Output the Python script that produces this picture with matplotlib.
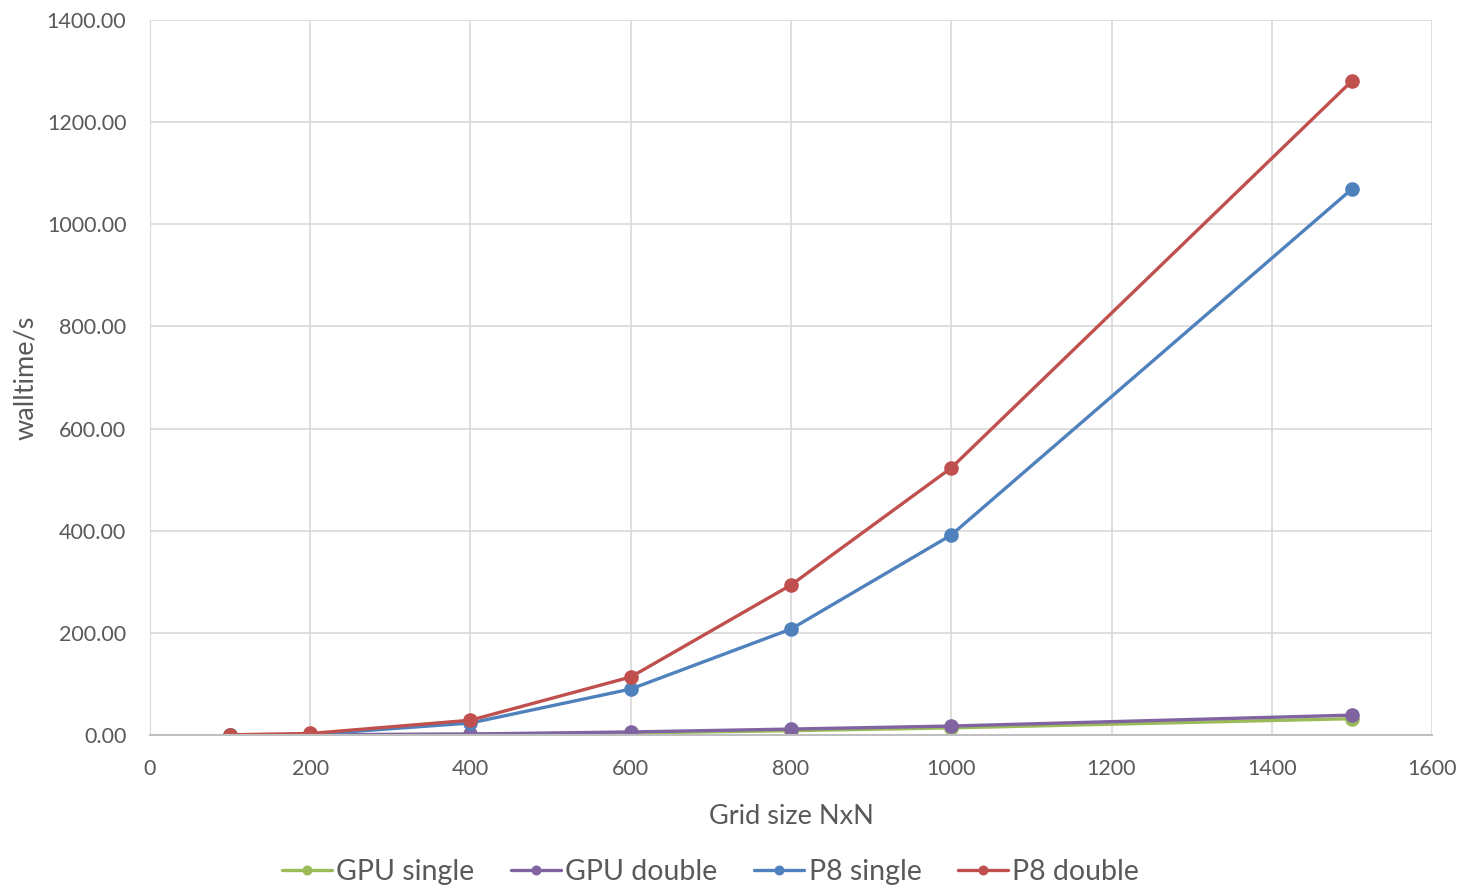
import matplotlib.pyplot as plt
from matplotlib.ticker import FormatStrFormatter

plt.rcParams['font.family'] = ['Lato', 'DejaVu Sans']

grid_size = [100, 200, 400, 600, 800, 1000, 1500]
gpu_single = [0.1, 0.3, 1.5, 4.0, 8.5, 14.0, 32.0]
gpu_double = [0.2, 0.5, 2.0, 6.0, 11.7, 17.6, 39.0]
p8_single = [0.3, 1.0, 23.5, 90.0, 207.5, 391.6, 1069.0]
p8_double = [0.5, 3.0, 29.0, 113.6, 293.7, 523.0, 1280.6]

series = [
    ('GPU single', gpu_single, '#9BBB59'),
    ('GPU double', gpu_double, '#8064A2'),
    ('P8 single', p8_single, '#4F81BD'),
    ('P8 double', p8_double, '#C0504D'),
]

fig = plt.figure(figsize=(14.59, 8.89), dpi=100)
ax = fig.add_axes([0.1028, 0.1732, 0.8787, 0.8043])

for name, vals, col in series:
    ax.plot(grid_size, vals, color=col, lw=2.4, marker='o', ms=9.5,
            label=name, solid_capstyle='round')

ax.set_xlim(0, 1600)
ax.set_ylim(0, 1400)
ax.set_xticks(range(0, 1601, 200))
ax.set_yticks(range(0, 1401, 200))
ax.yaxis.set_major_formatter(FormatStrFormatter('%.2f'))

ax.grid(True, color='#D9D9D9', lw=1.2)
ax.set_axisbelow(True)
for s in ['top', 'right']:
    ax.spines[s].set_visible(False)
ax.spines['left'].set_color('#D9D9D9')
ax.spines['bottom'].set_color('#BFBFBF')
ax.spines['bottom'].set_linewidth(1.5)
ax.tick_params(axis='both', length=0, labelsize=15.5, labelcolor='#595959')
ax.tick_params(axis='x', pad=17)
ax.tick_params(axis='y', pad=17)

ax.set_xlabel('Grid size NxN', fontsize=19.5, color='#595959', labelpad=18)
ax.set_ylabel('walltime/s', fontsize=19.5, color='#595959', labelpad=6)

fig.legend(loc='center', bbox_to_anchor=(0.487, 0.019), ncol=4, frameon=False,
           fontsize=20.5, labelcolor='#595959', handlelength=1.75,
           columnspacing=1.3, handletextpad=0.15, markerscale=0.65)

plt.savefig('out.png', dpi=100)
